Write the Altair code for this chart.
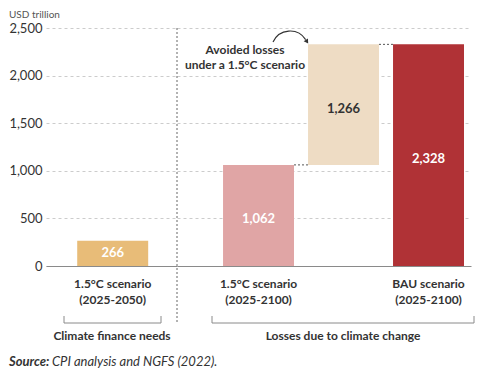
import math
import altair as alt
import pandas as pd

# ---------------- data ----------------
need_categories = ["1.5°C scenario|(2025-2050)"]
need_values = [266]

loss_categories = ["1.5°C scenario|(2025-2100)", "Avoided", "BAU scenario|(2025-2100)"]
loss_15c = 1062
avoided_losses = 1266
loss_bau = 2328

y_ticks = [0, 500, 1000, 1500, 2000, 2500]
group_titles = ["Climate finance needs", "Losses due to climate change"]
annotation_lines = ["Avoided losses", "under a 1.5°C scenario"]
unit_label = "USD trillion"
source_bold = "Source:"
source_rest = "CPI analysis and NGFS (2022)."

FONT = "Lato"
DARK = "#333333"
H = 238
W_LEFT = 131
W_RIGHT = 294

need_df = pd.DataFrame({
    "cat": need_categories,
    "start": [0] * len(need_values),
    "end": need_values,
    "value": need_values,
})
loss_df = pd.DataFrame({
    "cat": loss_categories,
    "start": [0, loss_15c, 0],
    "end": [loss_15c, loss_15c + avoided_losses, loss_bau],
    "value": [loss_15c, avoided_losses, loss_bau],
    "kind": ["s15", "avoided", "bau"],
})
conn_df = pd.DataFrame({
    "from": [loss_categories[0], loss_categories[1]],
    "to": [loss_categories[1], loss_categories[2]],
    "level": [loss_15c, loss_bau],
})
one = pd.DataFrame({"k": [0]})

# ---------------- shared styling ----------------
y_scale = alt.Scale(domain=[0, 2500], nice=False, zero=True)
label_expr = "datum.value == 'Avoided' ? '' : split(datum.value, '|')"
x_axis = alt.Axis(title=None, labelAngle=0, ticks=False, domainColor="#8a8a8a",
                  domainWidth=1, labelExpr=label_expr, labelFont=FONT,
                  labelFontWeight="bold", labelFontSize=12, labelColor=DARK,
                  labelPadding=12, labelLineHeight=16)
grid_kw = dict(grid=True, gridColor="#cccccc", gridDash=[3, 3], gridWidth=1,
               domain=False, ticks=False, title=None, values=y_ticks)
y_axis_left = alt.Axis(format=",.0f", labelFont=FONT, labelFontSize=13,
                       labelColor=DARK, labelPadding=4, **grid_kw)
y_axis_right = alt.Axis(labels=False, **grid_kw)

BR_Y = 295
BR_TOP = 288
GL_Y = 308
SRC_Y = 333.5


def deco_rule(x, x2=None, y=None, y2=None, dash=None, color="#8a8a8a"):
    kw = {}
    if dash:
        kw["strokeDash"] = dash
    enc = {"x": alt.value(x), "y": alt.value(y)}
    if x2 is not None:
        enc["x2"] = alt.value(x2)
    if y2 is not None:
        enc["y2"] = alt.value(y2)
    return alt.Chart(one).mark_rule(color=color, strokeWidth=1, **kw).encode(**enc)


def deco_text(text, x, y, align="center", baseline="middle", size=12,
              weight="bold", style=None, color=DARK, line_height=None):
    kw = dict(text=text, align=align, baseline=baseline, font=FONT,
              fontSize=size, fontWeight=weight, color=color)
    if style:
        kw["fontStyle"] = style
    if line_height:
        kw["lineHeight"] = line_height
    return alt.Chart(one).mark_text(**kw).encode(x=alt.value(x), y=alt.value(y))


# ---------------- left panel ----------------
xl = alt.X("cat:N", sort=need_categories,
           scale=alt.Scale(domain=need_categories, paddingInner=0.165,
                           paddingOuter=0.353, align=0.52),
           axis=x_axis)

left_bar = alt.Chart(need_df).mark_bar(color="#E8BC78").encode(
    x=xl,
    y=alt.Y("start:Q", scale=y_scale, axis=y_axis_left),
    y2="end:Q",
)
left_lbl = alt.Chart(need_df).transform_calculate(
    mid="(datum.start + datum.end) / 2"
).mark_text(font=FONT, fontSize=13, fontWeight="bold", color="white").encode(
    x=alt.X("cat:N"),
    y=alt.Y("mid:Q", scale=y_scale),
    text=alt.Text("value:Q", format=","),
)

left = alt.layer(
    left_bar,
    left_lbl,
    deco_text(unit_label, -37, -18, align="left", baseline="top", size=10,
              weight="normal", color="#555555"),
    deco_rule(18, x2=115, y=BR_Y),
    deco_rule(18, y=BR_TOP, y2=BR_Y),
    deco_rule(115, y=BR_TOP, y2=BR_Y),
    deco_text(group_titles[0], 66, GL_Y),
    deco_text(source_bold, -37, SRC_Y, align="left", size=13, style="italic"),
    deco_text(source_rest, 6, SRC_Y, align="left", size=13, weight="normal",
              style="italic"),
).properties(width=W_LEFT, height=H)

# ---------------- right panel ----------------
xr_scale = alt.Scale(domain=loss_categories, paddingInner=0.165,
                     paddingOuter=0.312, align=0.868)

right_bar = alt.Chart(loss_df).mark_bar().encode(
    x=alt.X("cat:N", sort=loss_categories, scale=xr_scale, axis=x_axis),
    y=alt.Y("start:Q", scale=y_scale, axis=y_axis_right),
    y2="end:Q",
    color=alt.Color("kind:N",
                    scale=alt.Scale(domain=["s15", "avoided", "bau"],
                                    range=["#E0A5A5", "#EEDCC4", "#B03236"]),
                    legend=None),
)
right_lbl = alt.Chart(loss_df).transform_calculate(
    mid="(datum.start + datum.end) / 2"
).mark_text(font=FONT, fontSize=13, fontWeight="bold", dy=4).encode(
    x=alt.X("cat:N"),
    y=alt.Y("mid:Q", scale=y_scale),
    text=alt.Text("value:Q", format=","),
    color=alt.condition("datum.kind == 'avoided'", alt.value(DARK), alt.value("white")),
)
connectors = alt.Chart(conn_df).mark_rule(strokeDash=[2, 2], color="#555555",
                                          strokeWidth=1).encode(
    x=alt.X("from:N", bandPosition=1),
    x2=alt.X2("to:N", bandPosition=0),
    y=alt.Y("level:Q", scale=y_scale),
)

# curved annotation arrow (thin arc + arrowhead)
TWO_PI = 2 * math.pi
arrow_curve = alt.Chart(one).mark_arc(
    innerRadius=18.0, outerRadius=19.2, theta=TWO_PI - 1.15, theta2=TWO_PI + 1.0,
    color=DARK, opacity=1,
).encode(x=alt.value(113), y=alt.value(21.6))
arrow_head = alt.Chart(one).mark_point(
    shape="triangle-right", filled=True, color=DARK, size=26, opacity=1,
    angle=57,
).encode(x=alt.value(130), y=alt.value(13.7))

right = alt.layer(
    right_bar,
    connectors,
    right_lbl,
    deco_rule(0, y=0, y2=BR_Y, dash=[2, 2], color="#666666"),
    deco_rule(35, x2=297, y=BR_Y),
    deco_rule(35, y=BR_TOP, y2=BR_Y),
    deco_rule(297, y=BR_TOP, y2=BR_Y),
    deco_text(group_titles[1], 166, GL_Y),
    deco_text(annotation_lines, 68, 22, line_height=15),
    arrow_curve,
    arrow_head,
).properties(width=W_RIGHT, height=H)

chart = alt.hconcat(left, right, spacing=0, bounds="flush").properties(
    padding={"left": 0, "top": 2, "right": 0, "bottom": 0}
).configure_view(stroke=None)

chart.save("out.html", embed_options={"renderer": "svg", "actions": False})
